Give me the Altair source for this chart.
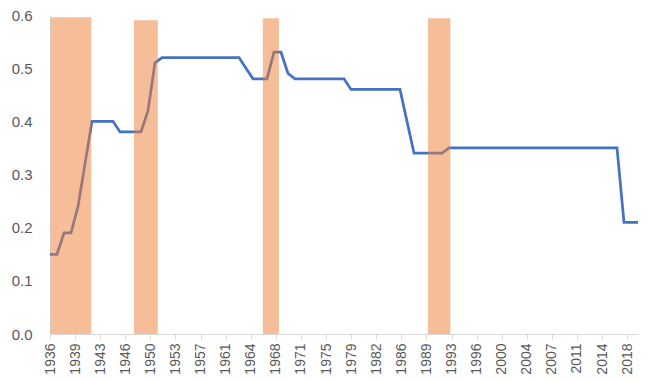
import altair as alt
import pandas as pd

years = list(range(1936, 2021))
values = [
    0.15, 0.15, 0.19, 0.19, 0.24, 0.32, 0.40, 0.40, 0.40, 0.40,   # 1936-1945
    0.38, 0.38, 0.38, 0.38, 0.42, 0.51, 0.52, 0.52, 0.52, 0.52,   # 1946-1955
    0.52, 0.52, 0.52, 0.52, 0.52, 0.52, 0.52, 0.52, 0.50, 0.48,   # 1956-1965
    0.48, 0.48, 0.53, 0.53, 0.49, 0.48, 0.48, 0.48, 0.48, 0.48,   # 1966-1975
    0.48, 0.48, 0.48, 0.46, 0.46, 0.46, 0.46, 0.46, 0.46, 0.46,   # 1976-1985
    0.46, 0.40, 0.34, 0.34, 0.34, 0.34, 0.34, 0.35, 0.35, 0.35,   # 1986-1995
    0.35, 0.35, 0.35, 0.35, 0.35, 0.35, 0.35, 0.35, 0.35, 0.35,   # 1996-2005
    0.35, 0.35, 0.35, 0.35, 0.35, 0.35, 0.35, 0.35, 0.35, 0.35,   # 2006-2015
    0.35, 0.35, 0.21, 0.21, 0.21,                                 # 2016-2020
]

band_start = [1936.1, 1948.0, 1966.4, 1990.0]
band_end = [1941.9, 1951.4, 1968.7, 1993.2]
band_top = [0.596, 0.590, 0.594, 0.594]

tick_labels = ["1936", "1939", "1943", "1946", "1950", "1953", "1957", "1961",
               "1964", "1968", "1971", "1975", "1979", "1982", "1986", "1989",
               "1993", "1996", "2000", "2004", "2007", "2011", "2014", "2018"]
tick_step = 3.585
tick_pos = [1936 + tick_step * i for i in range(len(tick_labels))]

line_df = pd.DataFrame({"year": years, "value": values})
band_df = pd.DataFrame({"start": band_start, "end": band_end, "top": band_top})

label_expr = "[" + ",".join("'" + t + "'" for t in tick_labels) + "][round((datum.value-1936)/" + str(tick_step) + ")]"

xscale = alt.Scale(domain=[1936, 2020], nice=False, zero=False)
yscale = alt.Scale(domain=[0, 0.6], nice=False)

xaxis = alt.Axis(
    values=tick_pos, tickCount=len(tick_pos), labelExpr=label_expr, labelAngle=-90,
    labelAlign="right", labelBaseline="middle", labelFontSize=14, labelColor="#595959",
    labelFont="Liberation Sans", domainColor="#D9D9D9", tickColor="#D9D9D9",
    tickSize=5, labelPadding=4, grid=False, title=None, labelOverlap=False,
)
yaxis = alt.Axis(
    values=[0, 0.1, 0.2, 0.3, 0.4, 0.5, 0.6], format=".1f", labelFontSize=15,
    labelColor="#595959", labelFont="Liberation Sans", domainColor="#D9D9D9",
    tickSize=0, labelPadding=18, grid=False, title=None,
)

line = alt.Chart(line_df).mark_line(color="#4472C4", strokeWidth=2.75).encode(
    x=alt.X("year:Q", scale=xscale, axis=xaxis),
    y=alt.Y("value:Q", scale=yscale, axis=yaxis),
)

bands = alt.Chart(band_df).mark_rect(color="#ED7D31", opacity=0.5).encode(
    x=alt.X("start:Q", scale=xscale, axis=xaxis),
    x2="end:Q",
    y=alt.Y("top:Q", scale=yscale, axis=yaxis),
    y2=alt.datum(0),
)

chart = alt.layer(line, bands).properties(
    width=588, height=319,
    padding={"left": 42, "top": 7, "right": 6, "bottom": 40},
    autosize=alt.AutoSizeParams(type="none"),
).configure_view(stroke=None)

chart.save("out.html", embed_options={"renderer": "svg", "actions": False})
